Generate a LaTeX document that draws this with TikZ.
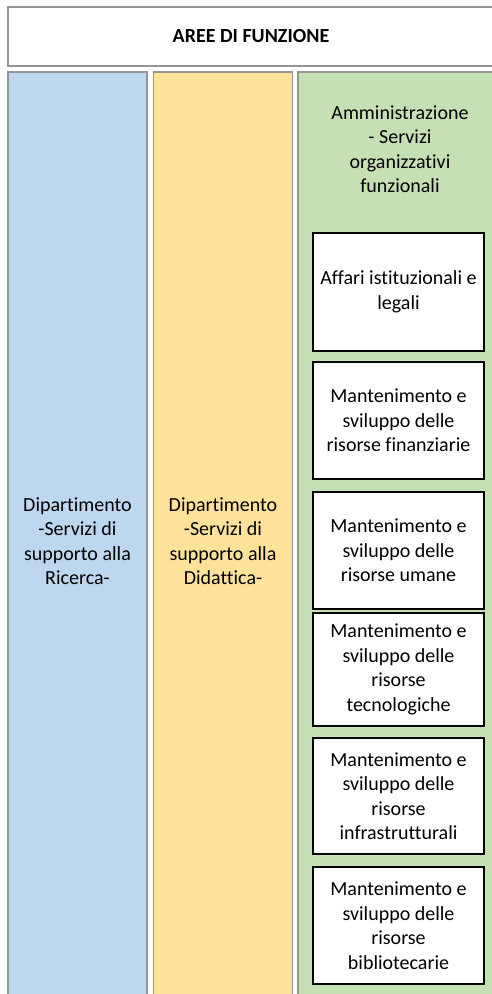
\documentclass[tikz,border=0pt]{standalone}
\usepackage{fontspec}
\setmainfont{Carlito}[Ligatures=NoCommon]
\usetikzlibrary{positioning}

\definecolor{ricerca}{RGB}{189,215,238}
\definecolor{didattica}{RGB}{254,226,153}
\definecolor{amministr}{RGB}{197,224,180}
\definecolor{bordo}{RGB}{150,150,150}

\tikzset{
	colonna/.style={draw=bordo,line width=1.6pt,minimum width=139pt,minimum height=938pt,align=center,inner sep=0pt},
	funzione/.style={draw=black,line width=1.1pt,fill=white,minimum width=171pt,align=center,inner sep=0pt},
	testo/.style={font=\fontsize{20}{24.5}\selectfont}
}

\begin{document}
\begin{tikzpicture}[x=1pt,y=-1pt,testo]
\useasboundingbox (0,0) rectangle (492,994);
\fill[white] (0,0) rectangle (492,994);
\node[draw=bordo,line width=1.4pt,minimum width=486pt,minimum height=59pt,inner sep=0pt] (titolo) at (251,36.5){\textbf{AREE DI FUNZIONE}};
\node[colonna,fill=ricerca] (ricerca) at (77.5,541){Dipartimento\\-Servizi di\\supporto alla\\Ricerca-};
\node[colonna,fill=didattica] (didattica) at (223,541){Dipartimento\\-Servizi di\\supporto alla\\Didattica-};
\node[colonna,fill=amministr,minimum width=200pt] (amm) at (398,541){};
\node[align=center,inner sep=0pt] (ammtitolo) at (400,149){Amministrazione\\- Servizi\\organizzativi\\funzionali};
\foreach \nome/\y/\h/\testo in {
	affari/292/118/{Affari istituzionali e\\legali},
	finanziarie/420.5/117/{Mantenimento e\\sviluppo delle\\risorse finanziarie},
	umane/550.5/117/{Mantenimento e\\sviluppo delle\\risorse umane},
	tecnologiche/669.5/113/{Mantenimento e\\sviluppo delle\\risorse\\tecnologiche},
	infrastrutturali/796/116/{Mantenimento e\\sviluppo delle\\risorse\\infrastrutturali},
	bibliotecarie/925.5/117/{Mantenimento e\\sviluppo delle\\risorse\\bibliotecarie}}
	\node[funzione,minimum height=\h pt] (\nome) at (398.5,\y){\testo};
\end{tikzpicture}
\end{document}
